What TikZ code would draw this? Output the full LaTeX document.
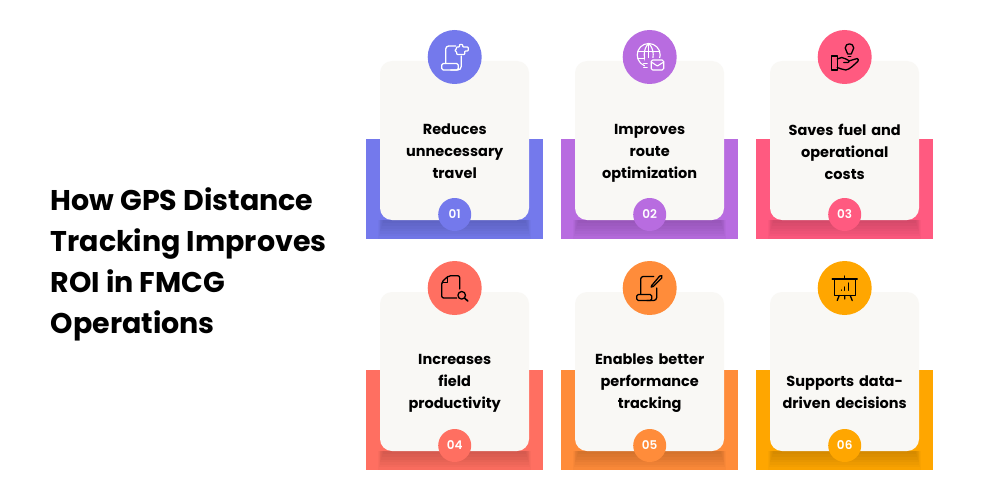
\documentclass[tikz,border=0pt]{standalone}
\usepackage{fontspec}
\setmainfont{Poppins}[BoldFont={Poppins SemiBold}]
\newfontfamily\heavy{Poppins}[UprightFont={* Bold}]
\definecolor{cardbg}{HTML}{F9F8F5}
\definecolor{cA}{HTML}{7479EC}
\definecolor{cB}{HTML}{B86CE0}
\definecolor{cC}{HTML}{FF5A80}
\definecolor{cD}{HTML}{FF6F61}
\definecolor{cE}{HTML}{FF8C3A}
\definecolor{cF}{HTML}{FFA600}
\tikzset{
  card/.style={fill=cardbg,rounded corners=12pt},
  blob/.style={circle,draw=none,inner sep=0pt,minimum size=54pt},
  badge/.style={circle,draw=none,inner sep=0pt,minimum size=33pt,text=white,font=\fontsize{12}{12}\selectfont\bfseries},
  cardtext/.style={text width=145pt,align=center,inner sep=0pt,text depth=4pt,text=black,font=\fontsize{14.5}{22}\selectfont\heavy},
  title/.style={anchor=west,align=left,inner sep=0pt,text=black,font=\fontsize{28.5}{41}\selectfont\heavy},
  icon/.style={line width=1.3pt,line cap=round,line join=round},
  glow/.style={fill=black,fill opacity=.022}
}
% #1 name, #2 left x, #3 top y, #4 colour, #5 number, #6 text centre y, #7 text
\newcommand{\tile}[7]{
  \fill[#4] (#2,#3+78) rectangle (#2+177,#3+178);
  \foreach \i in {0,...,6}{
    \fill[glow] (#2+14+\i*.8-2,#3+159) rectangle (#2+163-\i*.8+2,#3+178-\i*2.6);
  }
  \fill[card] (#2+14,#3) rectangle (#2+163,#3+159);
  \node[blob,fill=#4] (#1c) at (#2+88.7,#3-4) {};
  \node[badge,fill=#4] (#1b) at (#2+88.7,#3+153.5) {#5};
  \node[cardtext] (#1t) at (#2+88.7,#6) {#7};
}
\begin{document}
\begin{tikzpicture}[x=1pt,y=-1pt]
\useasboundingbox (0,0) rectangle (1000,500);
\fill[white] (0,0) rectangle (1000,500);
\node[title] (head) at (50.5,264.5) {How GPS Distance\\Tracking Improves\\ROI in FMCG\\Operations};
\tile{a}{366}{61}{cA}{01}{131.5}{Reduces\\unnecessary\\travel}
\tile{b}{561}{61}{cB}{02}{131.5}{Improves\\route\\optimization}
\tile{c}{756}{61}{cC}{03}{131.5}{Saves fuel and\\operational\\costs}
\tile{d}{366}{292}{cD}{04}{361.5}{Increases\\field\\productivity}
\tile{e}{561}{292}{cE}{05}{361.5}{Enables better\\performance\\tracking}
\tile{f}{756}{292}{cF}{06}{383.5}{Supports data-\\driven decisions}
% icon 1
\begin{scope}[shift={(ac.center)},icon,draw=white]
  \draw[rounded corners=3pt] (-9,6.5) -- (-9,-11) -- (1,-11);
  \draw[rounded corners=3.5pt] (6.5,-1) -- (6.5,13) -- (-4,13);
  \draw[rounded corners=1.5pt] (-13,6.5) rectangle (3.5,13);
  \draw[line width=1.2pt,rounded corners=.8pt] (2,-5) -- (0,-6.5) -- (2,-8.5) -- (1.5,-10) -- (5,-10) -- (4.5,-12.5) -- (8,-12.5) -- (8,-10) -- (13.5,-10) -- (13.5,-6) -- (10,-6) -- (10,-2.5) -- (2,-2.5) -- cycle;
\end{scope}
% icon 2
\begin{scope}[shift={(bc.center)},icon,draw=white,line width=1.1pt]
  \draw (-1,-2) circle[radius=11.5];
  \draw (-1,-13.5) .. controls (-7,-8) and (-7,3) .. (-1,9.5);
  \draw (-1,-13.5) .. controls (5,-8) and (5,3) .. (-1,9.5);
  \draw (-1,-13.5) -- (-1,9.5);
  \draw (-12,-5.5) -- (10,-5.5);
  \draw (-12,1.5) -- (10,1.5);
  \fill[cB] (-5,1) rectangle (16,15);
  \draw (-6,6.5) -- (-2.5,6.5) (-6,10.5) -- (-2.5,10.5);
  \draw[rounded corners=1.5pt] (1.5,3) rectangle (14,13);
  \draw (1.5,5) -- (7.7,9) -- (14,5);
\end{scope}
% icon 3
\begin{scope}[shift={(cc.center)},icon,draw=black]
  \draw (3,-3) .. controls (3,-5.5) and (0.5,-6) .. (0.5,-9) .. controls (0.5,-14.5) and (9,-14.5) .. (9,-9) .. controls (9,-6) and (6.5,-5.5) .. (6.5,-3) -- cycle;
  \draw (3.5,-0.5) -- (6,-0.5);
  \draw (-13,-1) -- (-7.5,-1) -- (-7.5,13) -- (-13,13) -- cycle;
  \draw (-7.5,2) -- (-3,0.5) .. controls (0,0.5) and (2,3) .. (4,3.5) .. controls (5,4.5) and (4,5.5) .. (3,5.5) -- (-1,5.5);
  \draw (4,4) -- (12.5,1.5) .. controls (14,2) and (14,3.5) .. (13,4.5) .. controls (9,8) and (5,12.5) .. (1,13) .. controls (-2,13) and (-5,11) .. (-7.5,10.5);
\end{scope}
% icon 4
\begin{scope}[shift={(dc.center)},icon,draw=black]
  \draw[rounded corners=2pt] (2,10) -- (-13,10) -- (-13,-6) -- (-6,-12.3) -- (5,-12.3) -- (5,1);
  \draw (-12.5,-5.5) -- (-7,-5.5) -- (-7,-11.5);
  \draw (7,7.3) circle[radius=3.8];
  \draw[line width=1.6pt] (9.8,10) -- (13,13);
\end{scope}
% icon 5
\begin{scope}[shift={(ec.center)},icon,draw=black]
  \draw[rounded corners=2.5pt] (-9,6) -- (-9,-11.5) -- (4,-11.5);
  \draw[rounded corners=3pt] (7,0) -- (7,12.5) -- (-3,12.5);
  \draw[rounded corners=1.5pt] (-13,6.5) rectangle (2,12.5);
  \draw (2,-2.5) -- (1.5,-1) -- (3.5,-1.5) -- (12,-10) .. controls (13.5,-12) and (11.5,-13.5) .. (10,-12) -- cycle;
\end{scope}
% icon 6
\begin{scope}[shift={(fc.center)},icon,draw=black]
  \draw (-12.5,-9) -- (12.5,-9);
  \draw (0,-12) -- (0,-9);
  \draw (-10.5,-9) -- (-10.5,7.5) -- (10.5,7.5) -- (10.5,-9);
  \draw (-5.5,7.5) -- (-7.5,12.5) (5.5,7.5) -- (7.5,12.5) (0,7.5) -- (0,11);
  \draw (-3.5,2) -- (-3.5,2.3) (0,-1) -- (0,2.3) (4,-5) -- (4,2.3);
\end{scope}
\end{tikzpicture}
\end{document}
